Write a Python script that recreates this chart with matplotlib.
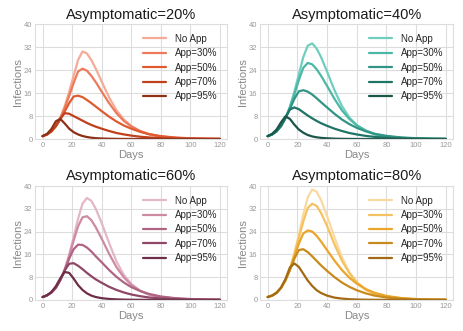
import matplotlib
matplotlib.use("Agg")
import matplotlib.pyplot as plt
import numpy as np

plt.style.use("seaborn-v0_8-whitegrid")
plt.rcParams["font.family"] = ["Liberation Sans", "DejaVu Sans"]

# days sampled along each curve
days = [0, 3, 6, 9, 12, 15, 18, 21, 24, 27, 30, 33, 36, 40, 45, 50, 55, 60, 66, 72, 80, 90, 100, 110, 120]

labels = ["No App", "App=30%", "App=50%", "App=70%", "App=95%"]
titles = ["Asymptomatic=20%", "Asymptomatic=40%", "Asymptomatic=60%", "Asymptomatic=80%"]

# asymptomatic = 20%
a20_noapp = [1, 1.6, 2.7, 4.6, 7.5, 11.5, 16.5, 22, 27.5, 30.5, 29.8, 27.5, 24.5, 20, 14.5, 10, 6.8, 4.5, 2.7, 1.6, 0.8, 0.35, 0.15, 0.07, 0.03]
a20_app30 = [1, 1.6, 2.7, 4.5, 7.2, 10.8, 15, 19.5, 23.5, 24.5, 23.8, 22, 19.8, 16.5, 12.5, 9, 6.3, 4.4, 2.8, 1.7, 0.9, 0.4, 0.18, 0.08, 0.04]
a20_app50 = [1, 1.6, 2.7, 4.4, 6.8, 9.6, 12.5, 14.8, 15.1, 14.6, 13.6, 12.5, 11.3, 9.7, 7.8, 6.1, 4.7, 3.6, 2.5, 1.7, 1.0, 0.5, 0.25, 0.12, 0.06]
a20_app70 = [1, 1.6, 2.7, 4.6, 7.2, 9.0, 8.8, 8.0, 7.2, 6.4, 5.6, 4.9, 4.3, 3.6, 2.8, 2.1, 1.6, 1.2, 0.8, 0.55, 0.3, 0.15, 0.07, 0.03, 0.02]
a20_app95 = [1, 1.8, 3.5, 6.2, 7.0, 5.4, 3.6, 2.4, 1.6, 1.05, 0.7, 0.45, 0.3, 0.18, 0.1, 0.05, 0.03, 0.02, 0.01, 0.01, 0, 0, 0, 0, 0]

# asymptomatic = 40%
a40_noapp = [1, 1.6, 2.7, 4.5, 7.3, 11.3, 16.5, 22.5, 28.5, 32.5, 33.3, 31.5, 28.5, 23.5, 17, 11.5, 7.5, 4.8, 2.8, 1.6, 0.8, 0.35, 0.15, 0.06, 0.03]
a40_app30 = [1, 1.6, 2.7, 4.5, 7.2, 11, 15.5, 20.5, 24.8, 26.5, 26, 24.3, 22, 18.5, 14, 10, 7, 4.8, 3, 1.8, 0.9, 0.4, 0.18, 0.08, 0.04]
a40_app50 = [1, 1.6, 2.7, 4.5, 7.2, 10.5, 14, 16.6, 17, 16.5, 15.5, 14.2, 12.8, 11, 8.8, 6.8, 5.2, 3.9, 2.7, 1.8, 1.1, 0.55, 0.27, 0.13, 0.06]
a40_app70 = [1, 1.6, 2.7, 4.6, 7.5, 10.3, 11, 10.4, 9.3, 8.2, 7.2, 6.3, 5.5, 4.6, 3.6, 2.8, 2.1, 1.6, 1.1, 0.75, 0.45, 0.2, 0.1, 0.05, 0.02]
a40_app95 = [1, 1.8, 3.3, 5.8, 7.9, 7.0, 5.0, 3.3, 2.2, 1.4, 0.9, 0.6, 0.4, 0.25, 0.13, 0.07, 0.04, 0.02, 0.01, 0.01, 0, 0, 0, 0, 0]

# asymptomatic = 60%
a60_noapp = [1, 1.6, 2.6, 4.3, 7, 10.8, 16, 22, 28.5, 33.8, 35.8, 34.8, 32, 27, 20, 13.5, 8.8, 5.6, 3.2, 1.8, 0.9, 0.4, 0.17, 0.07, 0.03]
a60_app30 = [1, 1.6, 2.6, 4.3, 7, 10.6, 15.3, 20.8, 25.8, 29, 29.4, 28, 25.5, 21.5, 16.2, 11.5, 7.9, 5.3, 3.2, 1.9, 1, 0.45, 0.2, 0.09, 0.04]
a60_app50 = [1, 1.6, 2.6, 4.3, 7, 10.5, 14.5, 17.8, 19.4, 19.3, 18.4, 17, 15.3, 13.2, 10.5, 8.1, 6.1, 4.5, 3.1, 2.1, 1.2, 0.6, 0.3, 0.14, 0.07]
a60_app70 = [1, 1.6, 2.6, 4.3, 7, 10.4, 12.7, 12.9, 12, 10.8, 9.5, 8.3, 7.2, 6, 4.6, 3.5, 2.6, 1.9, 1.3, 0.85, 0.5, 0.22, 0.1, 0.05, 0.02]
a60_app95 = [1, 1.6, 2.8, 4.8, 7.6, 9.8, 9.5, 7.5, 5.2, 3.5, 2.3, 1.5, 1.0, 0.6, 0.33, 0.18, 0.1, 0.05, 0.03, 0.01, 0, 0, 0, 0, 0]

# asymptomatic = 80%
a80_noapp = [1, 1.5, 2.5, 4.2, 7, 11, 16.5, 23, 30, 36, 38.8, 38, 35, 29.5, 22, 15, 9.8, 6.2, 3.5, 2, 1, 0.45, 0.2, 0.08, 0.03]
a80_app30 = [1, 1.5, 2.5, 4.2, 6.9, 10.8, 16, 21.8, 27.5, 32.3, 33.8, 33, 30.5, 26, 19.5, 13.8, 9.4, 6.2, 3.7, 2.2, 1.1, 0.5, 0.22, 0.1, 0.04]
a80_app50 = [1, 1.5, 2.5, 4.2, 6.9, 10.6, 15.2, 19.8, 23.3, 24.4, 24, 22.5, 20.5, 17.5, 13.8, 10.5, 7.8, 5.7, 3.8, 2.5, 1.4, 0.65, 0.3, 0.14, 0.06]
a80_app70 = [1, 1.5, 2.5, 4.2, 6.9, 10.5, 14.5, 17.5, 17.8, 16.8, 15.3, 13.7, 12.1, 10.2, 8, 6.1, 4.6, 3.4, 2.3, 1.5, 0.85, 0.4, 0.18, 0.08, 0.04]
a80_app95 = [1, 1.5, 2.5, 4.3, 7.3, 11.4, 12.8, 11.6, 9.2, 6.8, 4.9, 3.4, 2.4, 1.5, 0.8, 0.45, 0.25, 0.13, 0.06, 0.03, 0.01, 0, 0, 0, 0]

panels = [
    [a20_noapp, a20_app30, a20_app50, a20_app70, a20_app95],
    [a40_noapp, a40_app30, a40_app50, a40_app70, a40_app95],
    [a60_noapp, a60_app30, a60_app50, a60_app70, a60_app95],
    [a80_noapp, a80_app30, a80_app50, a80_app70, a80_app95],
]

colors = [
    ["#f4ab98", "#ec7a5b", "#e05a30", "#c0401c", "#8e2f18"],
    ["#6fcfbe", "#4ab8a5", "#309584", "#1f7565", "#1d5549"],
    ["#e3b7c5", "#cd8aa3", "#b06483", "#8e4766", "#6e2e48"],
    ["#fad9a0", "#f5c260", "#eaa52a", "#c98a1c", "#a26a13"],
]

fig = plt.figure(figsize=(4.63, 3.31), dpi=100)
positions = [
    [0.076, 0.58, 0.415, 0.347],
    [0.562, 0.58, 0.417, 0.347],
    [0.076, 0.094, 0.415, 0.344],
    [0.562, 0.094, 0.417, 0.344],
]

for i in range(4):
    ax = fig.add_axes(positions[i])
    for j in range(5):
        ax.plot(days, panels[i][j], color=colors[i][j], lw=1.6, label=labels[j])
    ax.set_xlim(-5, 125)
    ax.set_ylim(0, 40)
    ax.set_xticks(np.arange(0, 121, 20))
    ax.set_yticks(np.arange(0, 41, 8))
    ax.tick_params(labelsize=5.5, colors="#999999", pad=2, length=0)
    ax.set_title(titles[i], fontsize=10.5, pad=4, color="#1a1a1a")
    ax.set_xlabel("Days", fontsize=8, color="#888888", labelpad=1)
    ax.set_ylabel("Infections", fontsize=8, color="#888888", labelpad=1)
    ax.grid(color="#dddddd", lw=0.8)
    for s in ax.spines.values():
        s.set_visible(True)
        s.set_color("#dddddd")
        s.set_linewidth(0.8)
    ax.legend(loc="upper right", fontsize=7, frameon=False, handlelength=2.4,
              labelspacing=0.45, borderaxespad=0.6, handletextpad=0.9)

plt.savefig("out.png", dpi=100)
